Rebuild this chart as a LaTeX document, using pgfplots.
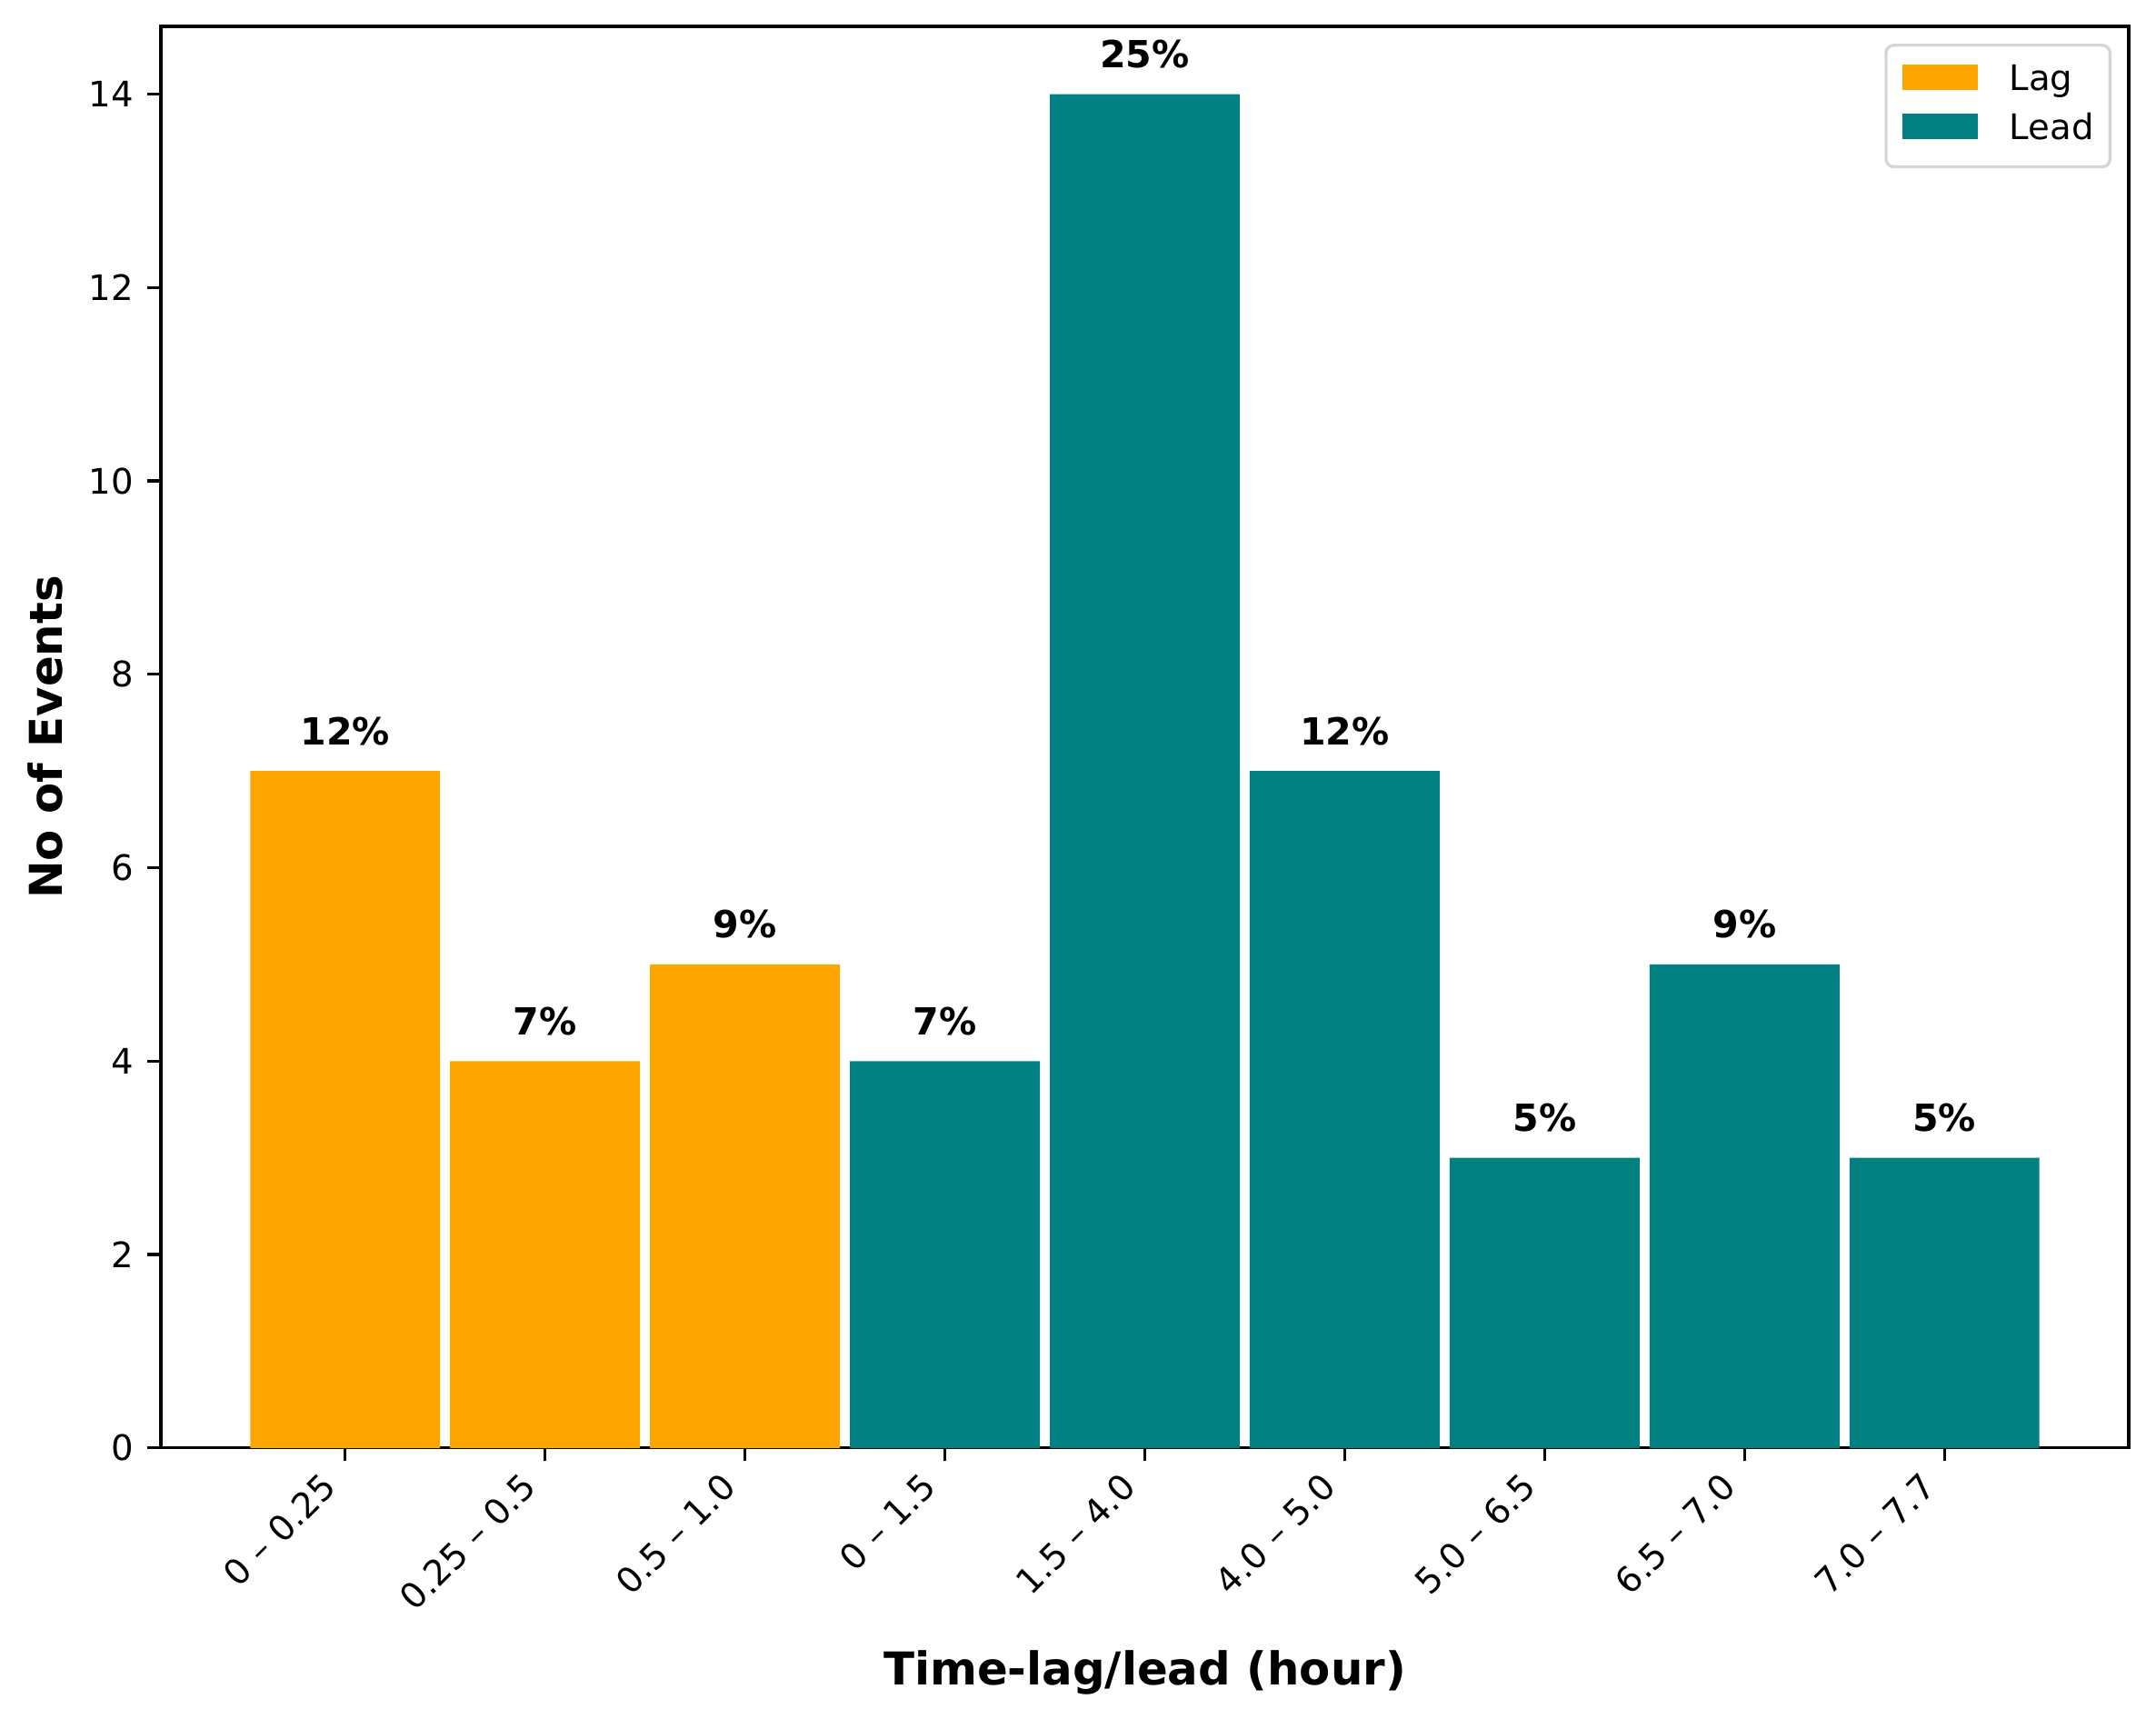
\documentclass[border=0pt]{standalone}
\usepackage{fontspec}
\setmainfont{DejaVu Sans}
\usepackage{pgfplots}
\pgfplotsset{compat=1.18}
\definecolor{lagc}{HTML}{FFA500}
\definecolor{leadc}{HTML}{008080}
\definecolor{legframe}{HTML}{D6D6D6}
\begin{document}
\begin{tikzpicture}
\begin{axis}[
  scale only axis, width=521.6pt, height=376.7pt,
  xmin=-0.9225, xmax=8.9225, ymin=0, ymax=14.7,
  ybar, bar width=0.95, bar shift=0pt,
  xtick={0,...,8},
  xticklabels={0 – 0.25, 0.25 – 0.5, 0.5 – 1.0, 0 – 1.5, 1.5 – 4.0, 4.0 – 5.0, 5.0 – 6.5, 6.5 – 7.0, 7.0 – 7.7},
  ytick={0,2,...,14},
  tick align=outside, xtick pos=lower, ytick pos=left,
  major tick length=3.5pt,
  tick style={black, line width=0.8pt},
  axis line style={line width=0.8pt},
  /pgf/number format/assume math mode=true,
  ticklabel style={font=\fontsize{9.3}{11}\selectfont},
  yticklabel style={anchor=east, inner sep=0pt, xshift=-3.5pt},
  xticklabel style={rotate=45, anchor=south east, inner sep=0pt, text height=8.6pt, text depth=2.2pt},
  xticklabel shift=9pt,
  nodes near coords, point meta=explicit symbolic,
  nodes near coords style={font=\bfseries\fontsize{9.9}{12}\selectfont, anchor=base, inner sep=0pt, yshift=7pt},
  xlabel={Time-lag/lead (hour)}, ylabel={No of Events},
  label style={font=\bfseries\fontsize{12}{14}\selectfont},
  xlabel style={at={(axis description cs:0.5,0)}, anchor=base, yshift=-62.7pt},
  ylabel style={at={(axis description cs:-0.05023,0.5)}, anchor=base},
  legend style={at={(1,1)}, anchor=north east, xshift=-4.6pt, yshift=-4.6pt,
    draw=legframe, line width=0.8pt, rounded corners=2pt,
    font=\fontsize{9.3}{11}\selectfont,
    inner xsep=4.3pt, inner ysep=5pt,
    nodes={inner sep=0pt, text height=6.8pt, text depth=2.2pt},
    column sep=8.4pt, row sep=3.8pt},
  legend cell align=left,
  legend image code/.code={\fill[#1, sharp corners] (0pt,-2.2pt) rectangle (20pt,4.7pt);},
]
\addplot[fill=lagc, draw=none] coordinates {(0,7) [12\%] (1,4) [7\%] (2,5) [9\%]};
\addlegendentry{Lag}
\addplot[fill=leadc, draw=none] coordinates {(3,4) [7\%] (4,14) [25\%] (5,7) [12\%] (6,3) [5\%] (7,5) [9\%] (8,3) [5\%]};
\addlegendentry{Lead}
\coordinate (BBA) at (rel axis cs:0,0);
\coordinate (BBB) at (rel axis cs:1,1);
\end{axis}
\pgfresetboundingbox
\path[use as bounding box] ([shift={(-42.6pt,-71.8pt)}]BBA) rectangle ([shift={(7.2pt,7pt)}]BBB);
\end{tikzpicture}
\end{document}
